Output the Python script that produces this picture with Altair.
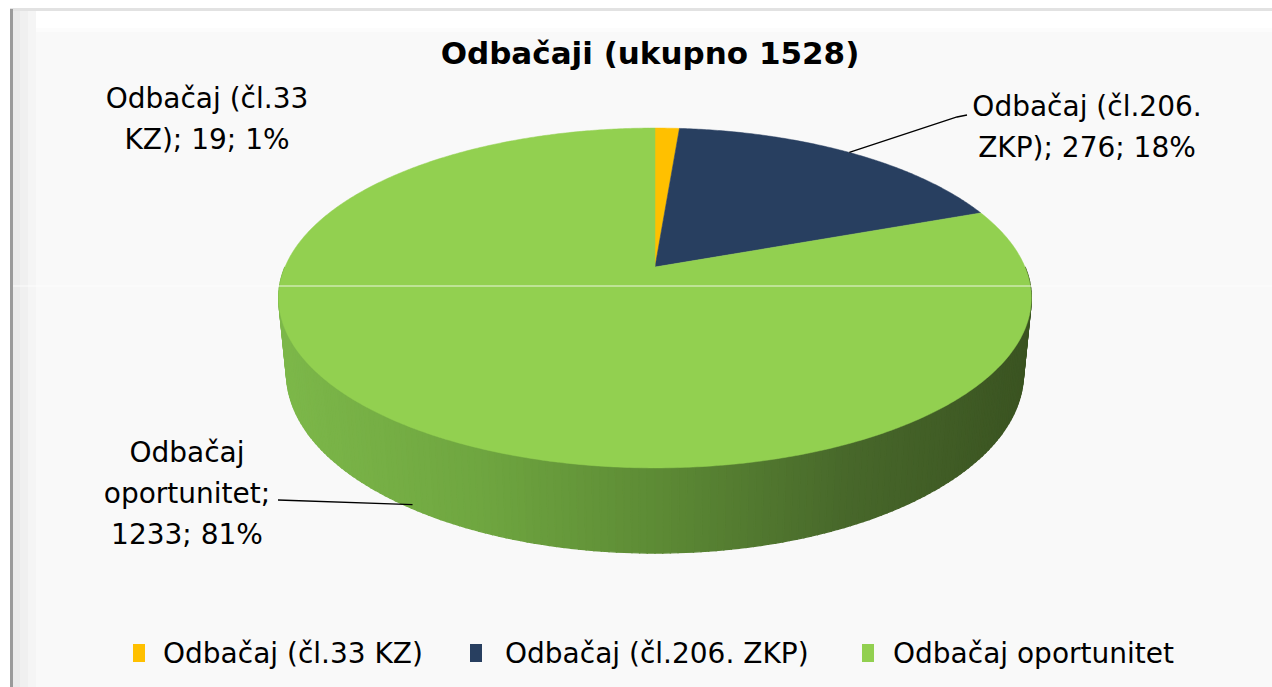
import math
import altair as alt
import pandas as pd

# ---------------- data ----------------
categories = ["Odbačaj (čl.33 KZ)", "Odbačaj (čl.206. ZKP)", "Odbačaj oportunitet"]
values = [19, 276, 1233]
colors = ["#FFC000", "#283F60", "#92D050"]
label_lines = [
    ["Odbačaj (čl.33", "KZ);"],
    ["Odbačaj (čl.206.", "ZKP);"],
    ["Odbačaj", "oportunitet;"],
]
total = sum(values)
title_text = f"Odbačaji (ukupno {total})"

# ---------------- layout constants (3D perspective pie) ----------------
W, H_PX = 1272, 687
CX, CY = 655, 267          # projected pie centre
F = 370                    # focal * R / D
U = 0.1823                 # R*cos(a)/D
SA, CA = 0.444, 0.896      # sin / cos of tilt
RD = U / CA                # R / D
THICK = 0.2276             # pie thickness / R


def proj(t_deg, yfrac=0.0):
    t = math.radians(t_deg)
    X, Z, Y = math.sin(t), math.cos(t), -THICK * yfrac
    yc = Y * CA + Z * SA
    zc = 1 + RD * (Z * CA - Y * SA)
    return [CX + F * X / zc, CY - F * yc / zc]


def hex2rgb(h):
    h = h.lstrip("#")
    return [int(h[i:i + 2], 16) for i in (0, 2, 4)]


def lerp_color(stops, x):
    if x <= stops[0][0]:
        return stops[0][1]
    for (x0, c0), (x1, c1) in zip(stops, stops[1:]):
        if x <= x1:
            f = (x - x0) / (x1 - x0)
            a, b = hex2rgb(c0), hex2rgb(c1)
            return "#%02x%02x%02x" % tuple(round(a[i] + (b[i] - a[i]) * f) for i in range(3))
    return stops[-1][1]


def poly(pts, color):
    ring = [list(p) for p in pts] + [list(pts[0])]
    return {"type": "Feature", "geometry": {"type": "Polygon", "coordinates": [ring]},
            "properties": {"color": color}}


def line(pts, color):
    return {"type": "Feature", "geometry": {"type": "LineString", "coordinates": [list(p) for p in pts]},
            "properties": {"color": color}}


def rect(x0, y0, x1, y1, color):
    return poly([(x0, y0), (x1, y0), (x1, y1), (x0, y1)], color)


PROJ = dict(type="identity", scale=1, translate=[0, 0])


def shape_layer(features, **mark):
    return alt.Chart(alt.Data(values=features)).mark_geoshape(**mark).encode(
        color=alt.Color("properties.color:N", scale=None),
        stroke=alt.Stroke("properties.color:N", scale=None),
    ).project(**PROJ)


# ---------------- frame ----------------
frame = [
    rect(10, 8, W, H_PX, "#e2e2e2"),
    rect(13, 11, W, H_PX, "#f9f9f9"),
    rect(13, 11, W, 28, "#ffffff"),
    rect(13, 28, W, 32, "#fcfcfc"),
    rect(13, 11, 20, H_PX, "#eaeaea"),
    rect(20, 11, 28, H_PX, "#f0f0f0"),
    rect(28, 11, 36, H_PX, "#f5f5f5"),
    rect(10, 9, 13, H_PX, "#9a9a9a"),
]
frame_layer = shape_layer(frame, strokeWidth=0)

# ---------------- side wall ----------------
side_stops = [(278, "#7db84a"), (480, "#6fa640"), (655, "#5d8b35"), (850, "#47672a"), (1031, "#3a5321")]
side = []
step = 1
ts = list(range(90, 270, step))
ts.sort(key=lambda t: -abs(t + step / 2 - 180))
for t0 in ts:
    t1 = t0 + step
    pts = [proj(t0, 0), proj(t1, 0), proj(t1, 1), proj(t0, 1)]
    xm = (pts[0][0] + pts[1][0] + pts[2][0] + pts[3][0]) / 4
    side.append(poly(pts, lerp_color(side_stops, xm)))
side_layer = shape_layer(side, strokeWidth=1.4)

# ---------------- top wedges ----------------
wedges = []
start = 0.0
mids = []
for v, c in zip(values, colors):
    sweep = 360.0 * v / total
    end = start + sweep
    n = max(2, int(sweep / 0.5))
    arc = [proj(start + (end - start) * i / n) for i in range(n + 1)]
    wedges.append(poly([[CX, CY]] + arc, c))
    mids.append(start + sweep / 2)
    start = end
top_layer = shape_layer(wedges, strokeWidth=0.5)

# ---------------- leader lines & artifact line ----------------
lines = [
    line([[967, 115], [957, 117], proj(mids[1], 0)], "#000000"),
    line([[278, 500], proj(mids[2], 0.95)], "#000000"),
]
lines_layer = shape_layer(lines, filled=False, strokeWidth=1.3)
white_line = shape_layer([line([[13, 286], [W, 286]], "#ffffff")], filled=False, strokeWidth=1.2, opacity=0.8)

# ---------------- legend keys ----------------
legend_key_x = [133, 470, 862]
legend_text_x = [163, 505, 893]
keys = [rect(x, 644, x + 12, 662, c) for x, c in zip(legend_key_x, colors)]
keys_layer = shape_layer(keys, strokeWidth=0)

# ---------------- texts ----------------
pcts = [round(100 * v / total) for v in values]
label_texts = []
for lines_, v, p in zip(label_lines, values, pcts):
    if len(lines_[-1]) > 8:
        label_texts.append("\n".join(lines_) + f"\n{v}; {p}%")
    else:
        label_texts.append("\n".join(lines_[:-1]) + f"\n{lines_[-1]} {v}; {p}%")
label_pos = [(207, 108), (1087, 116), (187, 462)]
labels_df = pd.DataFrame({
    "lon": [p[0] for p in label_pos],
    "lat": [p[1] for p in label_pos],
    "text": label_texts,
})
labels_layer = alt.Chart(labels_df).mark_text(
    font="DejaVu Sans", fontSize=28, lineHeight=41, lineBreak="\n",
    align="center", baseline="alphabetic", color="#000000",
).encode(longitude="lon:Q", latitude="lat:Q", text="text:N").project(**PROJ)

legend_df = pd.DataFrame({"lon": legend_text_x, "lat": [663] * 3, "text": categories})
legend_layer = alt.Chart(legend_df).mark_text(
    font="DejaVu Sans", fontSize=28, align="left", baseline="alphabetic", color="#000000",
).encode(longitude="lon:Q", latitude="lat:Q", text="text:N").project(**PROJ)

title_df = pd.DataFrame({"lon": [650], "lat": [64], "text": [title_text]})
title_layer = alt.Chart(title_df).mark_text(
    font="DejaVu Sans", fontSize=31, fontWeight="bold", align="center", baseline="alphabetic",
    color="#000000",
).encode(longitude="lon:Q", latitude="lat:Q", text="text:N").project(**PROJ)

chart = alt.layer(
    frame_layer, side_layer, top_layer, white_line, lines_layer, keys_layer,
    labels_layer, legend_layer, title_layer,
).properties(
    width=W, height=H_PX, padding=0, background="#ffffff",
    autosize=alt.AutoSizeParams(type="none"),
).configure_view(stroke=None)

chart.save("out.html", embed_options={"renderer": "svg", "actions": False})
